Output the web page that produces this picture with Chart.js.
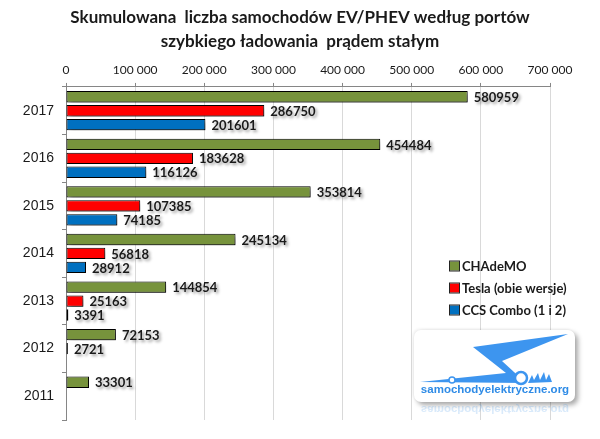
<!DOCTYPE html>
<html>
<head>
<meta charset="utf-8">
<script src="https://cdn.jsdelivr.net/npm/chart.js@4.4.1/dist/chart.umd.min.js"></script>
<style>
  body { margin: 0; background: #fff; }
  #wrap { position: relative; width: 600px; height: 439px; }
  #logo {
    position: absolute; left: 414px; top: 330px; width: 161px; height: 72px;
    background: #fff; border-radius: 7px;
    box-shadow: 3px 3px 5px rgba(0,0,0,0.35), -1px -1px 3px rgba(0,0,0,0.08);
  }
  #logo-text {
    position: absolute; left: 5px; top: 53px; width: 152px; text-align: center;
    font: bold 11.5px "Liberation Sans", Arial, sans-serif; color: #2e8be6;
  }
  #logo-mirror {
    position: absolute; left: 419px; top: 404px; width: 152px; text-align: center;
    font: bold 11.5px "Liberation Sans", Arial, sans-serif; color: #2e8be6;
    transform: scaleY(-1); opacity: 0.18;
  }
</style>
</head>
<body>
<div id="wrap">
  <canvas id="chart"></canvas>
  <div id="logo">
    <svg width="161" height="56" style="position:absolute;left:0;top:0">
      <polygon points="154,4 59,17 92,43 6,52 112,53 88,31" fill="#3d95ef"/>
      <circle cx="107" cy="48" r="6" fill="#fff" stroke="#3d95ef" stroke-width="2.5"/>
      <circle cx="38" cy="50" r="3" fill="#fff" stroke="#3d95ef" stroke-width="1.5"/>
      <path d="M114 53 L118 45 L120 50 L124 43 L126 50 L130 42 L132 50 L135 44 L138 52 Z" fill="#3d95ef"/>
    </svg>
    <div id="logo-text">samochodyelektryczne.org</div>
  </div>
  <div id="logo-mirror">samochodyelektryczne.org</div>
</div>
<script>
const years = ['2017', '2016', '2015', '2014', '2013', '2012', '2011'];
const chademo = [580959, 454484, 353814, 245134, 144854, 72153, 33301];
const tesla = [286750, 183628, 107385, 56818, 25163, 2721, null];
const ccs = [201601, 116126, 74185, 28912, 3391, null, null];
const seriesNames = ['CHAdeMO', 'Tesla (obie wersje)', 'CCS Combo (1 i 2)'];
const seriesColors = ['#77933C', '#FF0000', '#0070C0'];

const narrow = 'Lato, "Open Sans", sans-serif';

// shadow under the bars
const barShadow = {
    id: 'barShadow',
    beforeDatasetsDraw(chart) {
        const ctx = chart.ctx;
        ctx.save();
        ctx.shadowColor = 'rgba(0,0,0,0.45)';
        ctx.shadowBlur = 4;
        ctx.shadowOffsetX = 3;
        ctx.shadowOffsetY = 3;
    },
    afterDatasetsDraw(chart) {
        chart.ctx.restore();
    }
};

// value labels at the end of each bar
const valueLabels = {
    id: 'valueLabels',
    afterDatasetsDraw(chart) {
        const ctx = chart.ctx;
        ctx.save();
        ctx.font = 'bold 13px ' + narrow;
        ctx.fillStyle = '#1a1a1a';
        ctx.textBaseline = 'middle';
        ctx.shadowColor = 'rgba(0,0,0,0.4)';
        ctx.shadowBlur = 3;
        ctx.shadowOffsetX = 2;
        ctx.shadowOffsetY = 2;
        chart.data.datasets.forEach((ds, i) => {
            const meta = chart.getDatasetMeta(i);
            meta.data.forEach((bar, j) => {
                const v = ds.data[j];
                if (v === null) return;
                ctx.fillText(String(v), bar.x + 6, bar.y + 1);
            });
        });
        ctx.restore();
    }
};

// legend sitting inside the plot, lower right
const innerLegend = {
    id: 'innerLegend',
    afterDraw(chart) {
        const ctx = chart.ctx;
        ctx.save();
        ctx.font = 'bold 13px ' + narrow;
        ctx.textBaseline = 'middle';
        chart.data.datasets.forEach((ds, i) => {
            const y = 266 + i * 22;
            ctx.fillStyle = ds.backgroundColor;
            ctx.fillRect(450, y - 4.5, 9, 9);
            ctx.strokeStyle = '#222';
            ctx.lineWidth = 1;
            ctx.strokeRect(449.5, y - 5, 10, 10);
            ctx.fillStyle = '#1a1a1a';
            ctx.fillText(ds.label, 462, y + 1);
        });
        ctx.restore();
    }
};

const chart = new Chart(document.getElementById('chart'), {
    type: 'bar',
    data: {
        labels: years,
        datasets: [chademo, tesla, ccs].map((d, i) => ({
            label: seriesNames[i],
            data: d,
            backgroundColor: seriesColors[i],
            borderColor: '#000',
            borderWidth: 1,
            borderSkipped: false,
            categoryPercentage: 0.88,
            barPercentage: 0.81
        }))
    },
    options: {
        indexAxis: 'y',
        responsive: true,
        maintainAspectRatio: false,
        animation: false,
        layout: { padding: { left: 0, right: 0, top: 0, bottom: 19 } },
        plugins: {
            legend: { display: false },
            tooltip: { enabled: false },
            title: {
                display: true,
                text: ['Skumulowana  liczba samochodów EV/PHEV według portów', 'szybkiego ładowania  prądem stałym'],
                font: { family: narrow, size: 17, weight: 'bold', lineHeight: 1.41 },
                color: '#1a1a1a',
                padding: { top: 6, bottom: 0 }
            }
        },
        scales: {
            x: {
                position: 'top',
                min: 0,
                max: 700000,
                afterFit(scale) { scale.height = 33; },
                ticks: {
                    stepSize: 100000,
                    padding: 6,
                    color: '#1a1a1a',
                    font: { family: narrow, size: 12 },
                    callback: v => v === 0 ? '0' : String(v).replace(/\B(?=(\d{3})+(?!\d))/g, ' ')
                },
                grid: { color: '#d9d9d9', tickColor: '#868686', tickLength: 4 },
                border: { color: '#868686' }
            },
            y: {
                afterFit(scale) { scale.width = 66; },
                ticks: {
                    padding: 8,
                    color: '#1a1a1a',
                    font: { family: '"Liberation Sans", Arial, sans-serif', size: 14 }
                },
                grid: { offset: true, drawOnChartArea: false, tickColor: '#868686', tickLength: 4 },
                border: { color: '#868686' }
            },
            // empty strip on the right so the title stays centred on the page
            yRight: {
                type: 'category',
                labels: years,
                position: 'right',
                afterFit(scale) { scale.width = 50; },
                ticks: { display: false },
                grid: { display: false },
                border: { display: false }
            }
        }
    },
    plugins: [barShadow, valueLabels, innerLegend]
});
</script>
</body>
</html>
